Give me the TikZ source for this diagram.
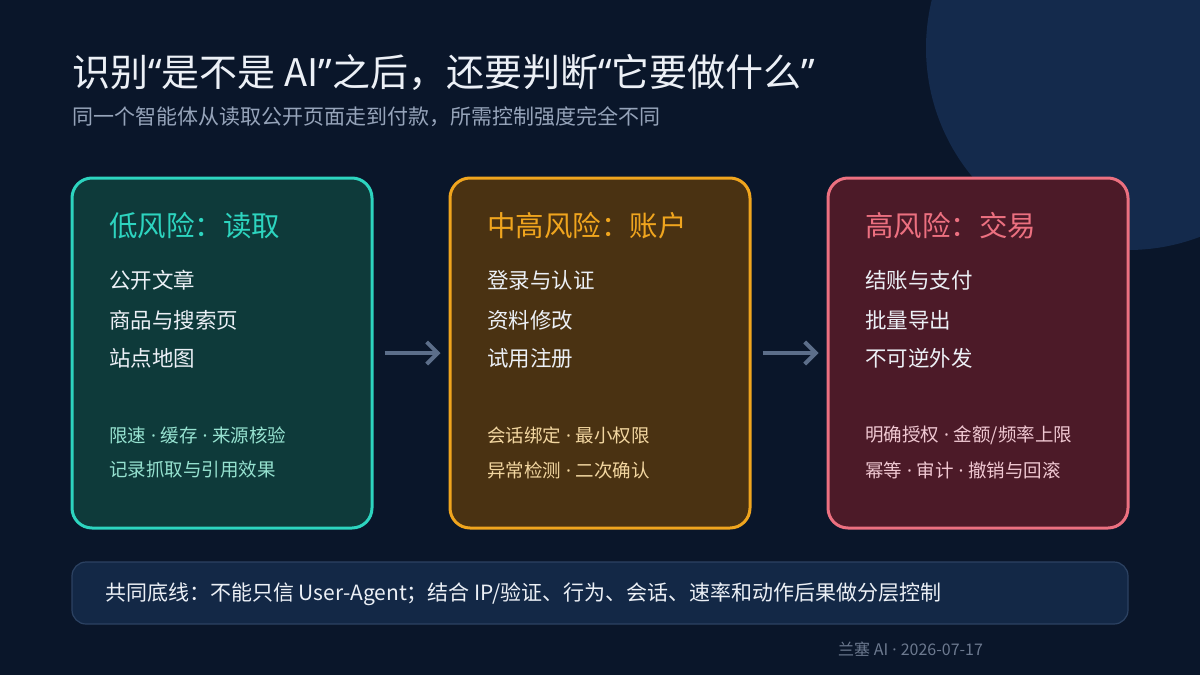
\documentclass[tikz,border=0pt]{standalone}
\usepackage{fontspec}
\setmainfont{Noto Sans CJK SC}
\newfontfamily\latinfont{Noto Sans}
\newcommand{\sdot}{{\latinfont\ ·\ }}
\newcommand{\oq}{{\latinfont “}}
\newcommand{\cq}{{\latinfont ”}}
\usepackage{tikz}
\usetikzlibrary{arrows.meta, positioning}
\definecolor{bgcolor}{RGB}{10,22,42}
\definecolor{circcolor}{RGB}{20,42,76}
\definecolor{lowcolor}{RGB}{45,212,191}
\definecolor{lowfill}{RGB}{14,58,58}
\definecolor{lowsoft}{RGB}{150,226,208}
\definecolor{midcolor}{RGB}{240,165,30}
\definecolor{midfill}{RGB}{74,50,18}
\definecolor{midsoft}{RGB}{242,214,160}
\definecolor{highcolor}{RGB}{236,112,128}
\definecolor{highfill}{RGB}{76,26,40}
\definecolor{highsoft}{RGB}{240,200,210}
\definecolor{basefill}{RGB}{19,40,70}
\definecolor{basedraw}{RGB}{44,66,98}
\definecolor{subcolor}{RGB}{150,164,186}
\definecolor{arrowcolor}{RGB}{92,110,138}
\definecolor{textcolor}{RGB}{236,240,246}
\tikzset{
  riskbox/.style={draw=#1color, fill=#1fill, line width=3pt,
                  rounded corners=20pt, minimum width=300pt,
                  minimum height=350pt, inner sep=0pt},
  boxtitle/.style={anchor=west, inner sep=0pt, text=#1color,
                   font=\fontsize{28.5}{32}\selectfont},
  item/.style={anchor=west, inner sep=0pt, text=textcolor,
               font=\fontsize{21.5}{25}\selectfont},
  note/.style={anchor=west, inner sep=0pt, text=#1soft,
               font=\fontsize{18.5}{22}\selectfont},
  flow/.style={-{Straight Barb[length=11pt, width=22pt]}, line width=4pt,
               draw=arrowcolor, shorten <=11pt, shorten >=8pt},
  basebox/.style={draw=basedraw, fill=basefill, line width=1.2pt,
                  rounded corners=14pt, minimum width=1056pt,
                  minimum height=62pt, inner sep=0pt},
}

\begin{document}
\begin{tikzpicture}[x=1pt, y=-1pt]
  % Background
  \fill[bgcolor] (0,0) rectangle (1200,675);
  \useasboundingbox (0,0) rectangle (1200,675);
  \fill[circcolor] (1128,48) circle[radius=202];

  % Heading
  \node[anchor=west, inner sep=0pt, text=textcolor,
        font=\fontsize{38}{42}\selectfont] (title) at (72,72)
    {识别\oq 是不是 AI\cq 之后，还要判断\oq 它要做什么\cq};
  \node[anchor=west, inner sep=0pt, text=subcolor,
        font=\fontsize{21}{24}\selectfont] (subtitle) at (72,117)
    {同一个智能体从读取公开页面走到付款，所需控制强度完全不同};

  % Risk boxes
  \node[riskbox=low]  (low)  at (222,353) {};
  \node[riskbox=mid]  (mid)  at (600,353) {};
  \node[riskbox=high] (high) at (978,353) {};

  % Low risk
  \node[boxtitle=low] (lowtitle) at (109,226) {低风险：读取};
  \node[item] (low1) at (109,280) {公开文章};
  \node[item] (low2) at (109,320) {商品与搜索页};
  \node[item] (low3) at (109,358) {站点地图};
  \node[note=low] (lownote1) at (109,435) {限速\sdot 缓存\sdot 来源核验};
  \node[note=low] (lownote2) at (109,470) {记录抓取与引用效果};

  % Medium-high risk
  \node[boxtitle=mid] (midtitle) at (487,226) {中高风险：账户};
  \node[item] (mid1) at (487,280) {登录与认证};
  \node[item] (mid2) at (487,320) {资料修改};
  \node[item] (mid3) at (487,358) {试用注册};
  \node[note=mid] (midnote1) at (487,435) {会话绑定\sdot 最小权限};
  \node[note=mid] (midnote2) at (487,470) {异常检测\sdot 二次确认};

  % High risk
  \node[boxtitle=high] (hightitle) at (865,226) {高风险：交易};
  \node[item] (high1) at (865,280) {结账与支付};
  \node[item] (high2) at (865,320) {批量导出};
  \node[item] (high3) at (865,358) {不可逆外发};
  \node[note=high] (highnote1) at (865,435) {明确授权\sdot 金额/频率上限};
  \node[note=high] (highnote2) at (865,470) {幂等\sdot 审计\sdot 撤销与回滚};

  % Arrows
  \draw[flow] (low.east) -- (mid.west);
  \draw[flow] (mid.east) -- (high.west);

  % Baseline
  \node[basebox] (base) at (600,593) {};
  \node[anchor=west, inner sep=0pt, text=textcolor,
        font=\fontsize{21}{24}\selectfont] (basetext) at (105,594)
    {共同底线：不能只信 User-Agent；结合 IP/验证、行为、会话、速率和动作后果做分层控制};

  % Footer
  \node[anchor=west, inner sep=0pt, text=subcolor!70!bgcolor,
        font=\fontsize{16}{18}\selectfont] (footer) at (838,649)
    {兰塞 AI{\latinfont\ ·\ }2026-07-17};

\end{tikzpicture}
\end{document}
